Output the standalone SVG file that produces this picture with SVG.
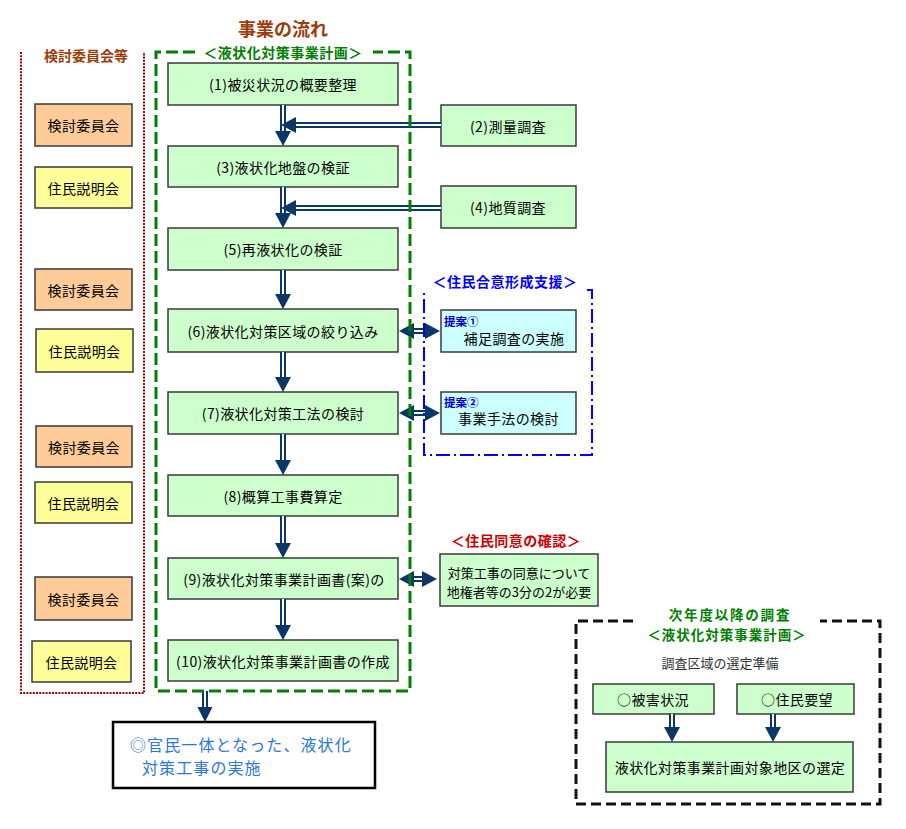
<svg xmlns="http://www.w3.org/2000/svg" width="906" height="829" viewBox="0 0 906 829">
<style>
.bx{stroke:#3a3a3a;stroke-width:1.5}
.g{fill:#ccffcc}.o{fill:#ffcc99}.y{fill:#ffff99}.c{fill:#ccffff}
text{font-family:"Noto Sans CJK JP","Noto Sans CJK SC",sans-serif;dominant-baseline:central}
.t{font-size:14px;fill:#000;text-anchor:middle;letter-spacing:0.4px}
.ts{font-size:13px;fill:#000;text-anchor:middle}
.h{font-size:14px;font-weight:bold;text-anchor:middle;letter-spacing:0.5px}
.sh{fill:none;stroke:#0b3668;stroke-width:6}
.si{fill:none;stroke:#fff;stroke-width:2}
.hd{fill:#0b3668}
.ot{font-size:16px;fill:#2b78d4;letter-spacing:1.1px}
</style>
<rect width="906" height="829" fill="#fff"/>

<!-- titles -->
<text x="283" y="28" style="font-size:18px;font-weight:bold;fill:#9c3c0c;text-anchor:middle">事業の流れ</text>
<text x="86" y="55" class="h" style="fill:#9c3c0c;letter-spacing:0">検討委員会等</text>
<text x="283" y="52" class="h" style="fill:#008000">＜液状化対策事業計画＞</text>
<text x="505" y="281" class="h" style="fill:#0000ff">＜住民合意形成支援＞</text>
<text x="516" y="540" class="h" style="fill:#cc0000">＜住民同意の確認＞</text>
<text x="730" y="614" class="h" style="fill:#008000;letter-spacing:1.8px;font-size:13.5px">次年度以降の調査</text>
<text x="727" y="634" class="h" style="fill:#008000;font-size:13.5px;letter-spacing:1px">＜液状化対策事業計画＞</text>
<text x="720" y="662" class="ts" style="fill:#333">調査区域の選定準備</text>

<!-- left column -->
<g id="left1"><rect class="bx o" x="35" y="104" width="97" height="42"/><text class="t" x="83.5" y="125">検討委員会</text></g>
<g id="left2"><rect class="bx y" x="35" y="167" width="97" height="41"/><text class="t" x="83.5" y="187.5">住民説明会</text></g>
<g id="left3"><rect class="bx o" x="35" y="269" width="97" height="41"/><text class="t" x="83.5" y="289.5">検討委員会</text></g>
<g id="left4"><rect class="bx y" x="36" y="329" width="97" height="43"/><text class="t" x="84.5" y="350.5">住民説明会</text></g>
<g id="left5"><rect class="bx o" x="36" y="426" width="96" height="41"/><text class="t" x="84" y="446.5">検討委員会</text></g>
<g id="left6"><rect class="bx y" x="35" y="482" width="97" height="41"/><text class="t" x="83.5" y="502.5">住民説明会</text></g>
<g id="left7"><rect class="bx o" x="35" y="577" width="97" height="43"/><text class="t" x="83.5" y="598.5">検討委員会</text></g>
<g id="left8"><rect class="bx y" x="32" y="641" width="99" height="41"/><text class="t" x="81.5" y="661.5">住民説明会</text></g>

<!-- main column -->
<g id="s1"><rect class="bx g" x="168" y="63" width="230" height="42"/><text class="t" x="283" y="84">(1)被災状況の概要整理</text></g>
<g id="s3"><rect class="bx g" x="168" y="146" width="230" height="41"/><text class="t" x="283" y="166.5">(3)液状化地盤の検証</text></g>
<g id="s5"><rect class="bx g" x="168" y="228" width="230" height="42"/><text class="t" x="283" y="249">(5)再液状化の検証</text></g>
<g id="s6"><rect class="bx g" x="168" y="309" width="230" height="43"/><text class="t" x="283" y="330.5">(6)液状化対策区域の絞り込み</text></g>
<g id="s7"><rect class="bx g" x="168" y="392" width="230" height="42"/><text class="t" x="283" y="413">(7)液状化対策工法の検討</text></g>
<g id="s8"><rect class="bx g" x="168" y="475" width="230" height="41"/><text class="t" x="283" y="495.5">(8)概算工事費算定</text></g>
<g id="s9"><rect class="bx g" x="168" y="558" width="230" height="41"/><text class="t" x="284" y="578.5">(9)液状化対策事業計画書(案)の</text></g>
<g id="s10"><rect class="bx g" x="168" y="640" width="230" height="41"/><text class="t" x="283" y="660.5">(10)液状化対策事業計画書の作成</text></g>

<!-- right side -->
<g id="s2"><rect class="bx g" x="441" y="105" width="135" height="41"/><text class="t" x="508" y="125.5">(2)測量調査</text></g>
<g id="s4"><rect class="bx g" x="441" y="186" width="135" height="42"/><text class="t" x="508" y="207">(4)地質調査</text></g>
<g id="p1"><rect class="bx c" x="441" y="310" width="135" height="42"/>
<text x="444" y="321" style="font-size:11.5px;font-weight:bold;fill:#0000cc">提案①</text>
<text class="t" x="514" y="338">補足調査の実施</text></g>
<g id="p2"><rect class="bx c" x="441" y="392" width="135" height="42"/>
<text x="444" y="402" style="font-size:11.5px;font-weight:bold;fill:#0000cc">提案②</text>
<text class="t" x="508.5" y="418">事業手法の検討</text></g>
<g id="agree"><rect class="bx g" x="440" y="554" width="158" height="52"/>
<text class="ts" x="519" y="572">対策工事の同意について</text>
<text class="ts" x="519" y="591">地権者等の3分の2が必要</text></g>

<!-- next year -->
<g id="n1"><rect class="bx g" x="593" y="684" width="121" height="30"/><text class="t" x="653" y="699">○被害状況</text></g>
<g id="n2"><rect class="bx g" x="737" y="684" width="117" height="30"/><text class="t" x="797" y="699">○住民要望</text></g>
<g id="n3"><rect class="bx g" x="606" y="742" width="247" height="50"/><text class="t" x="730" y="767">液状化対策事業計画対象地区の選定</text></g>

<!-- output -->
<g id="out"><rect x="113" y="722" width="262" height="66" fill="#fff" stroke="#000" stroke-width="2.5"/>
<text x="130" y="744" class="ot">◎官民一体となった、液状化</text>
<text x="142" y="767" class="ot">対策工事の実施</text></g>

<!-- connectors -->
<g id="connectors">
<path class="sh" d="M283,105V132M283,187V214M283,270V295M283,352V378M283,434V461M283,516V544M283,599V626M205,691V708M672,714V728M773,714V728M441,125H294M441,208H294M412,331H427M412,413H427M412,579H424"/>
<path class="si" d="M283,105V132M283,187V214M283,270V295M283,352V378M283,434V461M283,516V544M283,599V626M205,691V708M672,714V728M773,714V728M441,125H294M441,208H294M412,331H427M412,413H427M412,579H424"/>
<path class="hd" d="M275,131H291L283,146ZM275,213H291L283,228ZM275,294H291L283,309ZM275,377H291L283,392ZM275,460H291L283,475ZM275,543H291L283,558ZM275,625H291L283,640ZM197.5,707H212.5L205,722ZM664,727H680L672,742ZM765,727H781L773,742Z"/>
<path class="hd" d="M281,125L296,117V133ZM281,208L296,200V216Z"/>
<path class="hd" d="M399,331L414,323V339ZM440,331L425,323V339ZM399,413L414,405V421ZM440,413L425,405V421ZM399,579L414,571V587ZM437,579L422,571V587Z"/>
</g>

<!-- frames -->
<g id="frames" fill="none">
<path d="M21,52V693H144V52" stroke="#990000" stroke-width="2" stroke-dasharray="2 1.2"/>
<path d="M195,52H156V691H410V52H373" stroke="#008000" stroke-width="3" stroke-dasharray="12 5"/>
<path d="M587,290H592V455H424V290" stroke="#0000ff" stroke-width="2" stroke-dasharray="14 4 2 4"/>
<path d="M633,621H576V804H880V621H820" stroke="#111" stroke-width="3" stroke-dasharray="10 5"/>
</g>
</svg>
